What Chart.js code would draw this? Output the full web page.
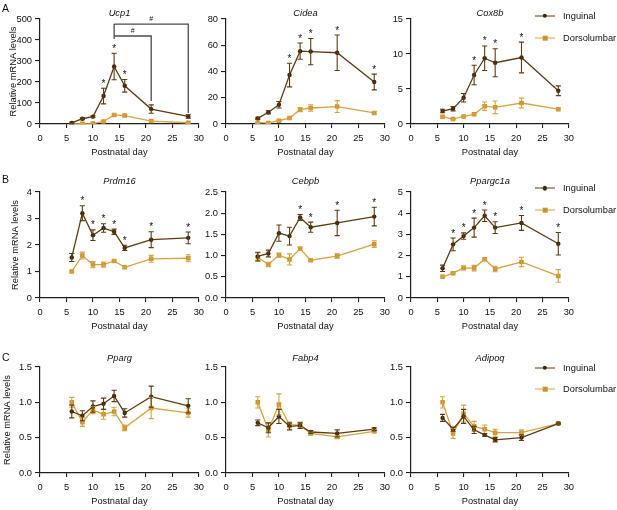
<!DOCTYPE html>
<html><head><meta charset="utf-8">
<script src="https://cdn.jsdelivr.net/npm/chart.js@4.4.1/dist/chart.umd.min.js"></script>
<style>
html,body{margin:0;padding:0;background:#fff;}
body{width:617px;height:510px;position:relative;overflow:hidden;font-family:"Liberation Sans",Arial,sans-serif;color:#111;}
canvas{position:absolute;}
.t{position:absolute;font-size:9.3px;font-style:italic;transform:translate(-50%,-50%);white-space:nowrap;z-index:2}
.p{position:absolute;font-size:10.5px;transform:translateY(-50%);z-index:2}
.lg{position:absolute;font-size:9.3px;height:10px;line-height:10px;padding-left:28px;transform:translateY(-50%);white-space:nowrap;z-index:2}
.lg .ln{position:absolute;left:0;top:5px;width:20px;height:0;border-top:1.3px solid;transform:translateY(-50%)}
.lg .mk{position:absolute;left:10px;top:5px;transform:translate(-50%,-50%)}
</style></head>
<body>
<script>
// ---------- DATA ----------
const days = [6, 8, 10, 12, 14, 16, 21, 28];
const xTicks = [0, 5, 10, 15, 20, 25, 30];
const seriesNames = ['Inguinal', 'Dorsolumbar'];
const panelLetters = ['A', 'B', 'C'];
const yAxisTitle = 'Relative mRNA levels';
const xAxisTitle = 'Postnatal day';

// Ucp1
const ucp1Ing = [5, 25, 35, 133, 274, 182, 71, 36];
const ucp1IngErr = [3, 4, 4, 37, 63, 30, 20, 8];
const ucp1Dor = [1, 1, 2, 12, 43, 40, 14, 6];
const ucp1DorErr = [1, 1, 1, 3, 5, 6, 2, 2];
const ucp1Ticks = [0, 100, 200, 300, 400, 500];
const ucp1Stars = [12, 14, 16];
const ucp1BracketFrom = [14, 14];
const ucp1BracketTo = [28, 21];
const ucp1BracketLevel = [476, 419];
const ucp1BracketEnd = [52, 110];
const ucp1BracketStemLow = 405;
const ucp1BracketLabel = ['#', '#'];

// Cidea
const cideaIng = [4.3, 8.9, 14.7, 37.3, 55.5, 55.2, 54.3, 32];
const cideaIngErr = [0.8, 1.2, 2.5, 9, 6.2, 10, 13.5, 6];
const cideaDor = [1, 0.8, 2.5, 4.5, 10.9, 12.2, 13.3, 8.4];
const cideaDorErr = [0.3, 0.3, 0.5, 0.8, 1.6, 2.5, 4.5, 1];
const cideaTicks = [0, 20, 40, 60, 80];
const cideaStars = [12, 14, 16, 21, 28];

// Cox8b
const cox8bIng = [1.85, 2.18, 3.75, 7.0, 9.4, 8.75, 9.5, 4.75];
const cox8bIngErr = [0.25, 0.3, 0.6, 1.4, 1.75, 2.0, 2.2, 0.7];
const cox8bDor = [1.04, 0.7, 1.08, 1.38, 2.55, 2.38, 3.0, 2.12];
const cox8bDorErr = [0.1, 0.08, 0.1, 0.12, 0.6, 0.9, 0.7, 0.15];
const cox8bTicks = [0, 5, 10, 15];
const cox8bStars = [12, 14, 16, 21];

// Prdm16
const prdm16Ing = [1.53, 3.2, 2.37, 2.64, 2.5, 1.89, 2.2, 2.27];
const prdm16IngErr = [0.15, 0.28, 0.2, 0.16, 0.1, 0.1, 0.3, 0.22];
const prdm16Dor = [1.0, 1.6, 1.26, 1.26, 1.4, 1.16, 1.48, 1.5];
const prdm16DorErr = [0.03, 0.13, 0.12, 0.1, 0.04, 0.03, 0.13, 0.13];
const prdm16Ticks = [0, 1, 2, 3, 4];
const prdm16Stars = [8, 10, 12, 14, 16, 21, 28];

// Cebpb
const cebpbIng = [0.98, 1.05, 1.53, 1.46, 1.9, 1.67, 1.77, 1.92];
const cebpbIngErr = [0.1, 0.08, 0.19, 0.21, 0.07, 0.12, 0.3, 0.22];
const cebpbDor = [0.96, 0.79, 1.01, 0.91, 1.16, 0.89, 0.99, 1.27];
const cebpbDorErr = [0.1, 0.05, 0.05, 0.13, 0.04, 0.02, 0.05, 0.08];
const cebpbTicks = [0, 0.5, 1.0, 1.5, 2.0, 2.5];
const cebpbStars = [14, 16, 21, 28];

// Ppargc1a
const ppargc1aIng = [1.4, 2.53, 2.92, 3.32, 3.88, 3.32, 3.54, 2.56];
const ppargc1aIngErr = [0.15, 0.3, 0.15, 0.45, 0.27, 0.28, 0.35, 0.53];
const ppargc1aDor = [1.0, 1.17, 1.42, 1.41, 1.83, 1.37, 1.7, 1.04];
const ppargc1aDorErr = [0.03, 0.04, 0.1, 0.13, 0.03, 0.13, 0.22, 0.3];
const ppargc1aTicks = [0, 1, 2, 3, 4, 5];
const ppargc1aStars = [8, 10, 12, 14, 16, 21, 28];

// Pparg
const ppargIng = [0.87, 0.81, 0.94, 0.98, 1.09, 0.85, 1.08, 0.95];
const ppargIngErr = [0.09, 0.07, 0.08, 0.08, 0.08, 0.06, 0.15, 0.1];
const ppargDor = [1.0, 0.72, 0.89, 0.83, 0.87, 0.64, 0.92, 0.85];
const ppargDorErr = [0.07, 0.06, 0.05, 0.07, 0.06, 0.04, 0.15, 0.06];

// Fabp4
const fabp4Ing = [0.71, 0.64, 0.8, 0.66, 0.67, 0.58, 0.56, 0.62];
const fabp4IngErr = [0.04, 0.07, 0.1, 0.05, 0.04, 0.02, 0.05, 0.02];
const fabp4Dor = [1.0, 0.61, 0.97, 0.68, 0.68, 0.56, 0.51, 0.59];
const fabp4DorErr = [0.08, 0.1, 0.15, 0.04, 0.04, 0.02, 0.02, 0.02];

// Adipoq
const adipoqIng = [0.78, 0.62, 0.8, 0.61, 0.54, 0.47, 0.5, 0.7];
const adipoqIngErr = [0.05, 0.03, 0.1, 0.05, 0.02, 0.03, 0.04, 0.01];
const adipoqDor = [1.0, 0.56, 0.84, 0.66, 0.62, 0.57, 0.57, 0.7];
const adipoqDorErr = [0.08, 0.07, 0.12, 0.07, 0.06, 0.05, 0.04, 0.01];

const rowCTicks = [0, 0.5, 1.0, 1.5];

// ---------- STYLE / LAYOUT ----------
const ING_COLOR = '#5e3b12';
const ING_POINT = '#3f2808';
const DOR_COLOR = '#d9a23f';
const DOR_POINT = '#cc922c';
const AXIS = '#1e1e1e';
const FONT_FAMILY = '"Liberation Sans", Arial, sans-serif';
const FS = 9.3;

const cols = [{left: 40, right: 199, wy: 40}, {left: 226, right: 385, wy: 30}, {left: 411, right: 569, wy: 30}];
const rows = [{top: 19, bottom: 124, titleY: 12.5, letterY: 8, yTitlePad: 8, legendY: [16, 38.3]},
              {top: 192, bottom: 298, titleY: 181, letterY: 178.5, yTitlePad: 9.4, legendY: [188.3, 210]},
              {top: 367, bottom: 473, titleY: 357.5, letterY: 356.5, yTitlePad: 1.4, legendY: [367.7, 389.3]}];
const PAD_T = 12, PAD_R = 10, H_X = 34;

const panels = [
  {name: 'Ucp1', row: 0, col: 0, ing: ucp1Ing, ingErr: ucp1IngErr, dor: ucp1Dor, dorErr: ucp1DorErr, ticks: ucp1Ticks, dec: 0, stars: ucp1Stars, brackets: true},
  {name: 'Cidea', row: 0, col: 1, ing: cideaIng, ingErr: cideaIngErr, dor: cideaDor, dorErr: cideaDorErr, ticks: cideaTicks, dec: 0, stars: cideaStars},
  {name: 'Cox8b', row: 0, col: 2, ing: cox8bIng, ingErr: cox8bIngErr, dor: cox8bDor, dorErr: cox8bDorErr, ticks: cox8bTicks, dec: 0, stars: cox8bStars},
  {name: 'Prdm16', row: 1, col: 0, ing: prdm16Ing, ingErr: prdm16IngErr, dor: prdm16Dor, dorErr: prdm16DorErr, ticks: prdm16Ticks, dec: 0, stars: prdm16Stars},
  {name: 'Cebpb', row: 1, col: 1, ing: cebpbIng, ingErr: cebpbIngErr, dor: cebpbDor, dorErr: cebpbDorErr, ticks: cebpbTicks, dec: 1, stars: cebpbStars},
  {name: 'Ppargc1a', row: 1, col: 2, ing: ppargc1aIng, ingErr: ppargc1aIngErr, dor: ppargc1aDor, dorErr: ppargc1aDorErr, ticks: ppargc1aTicks, dec: 0, stars: ppargc1aStars},
  {name: 'Pparg', row: 2, col: 0, ing: ppargIng, ingErr: ppargIngErr, dor: ppargDor, dorErr: ppargDorErr, ticks: rowCTicks, dec: 1, stars: []},
  {name: 'Fabp4', row: 2, col: 1, ing: fabp4Ing, ingErr: fabp4IngErr, dor: fabp4Dor, dorErr: fabp4DorErr, ticks: rowCTicks, dec: 1, stars: []},
  {name: 'Adipoq', row: 2, col: 2, ing: adipoqIng, ingErr: adipoqIngErr, dor: adipoqDor, dorErr: adipoqDorErr, ticks: rowCTicks, dec: 1, stars: []}
];

function addDiv(cls, html, style) {
  const d = document.createElement('div');
  d.className = cls; d.innerHTML = html; d.style.cssText = style;
  document.body.appendChild(d);
  return d;
}

// panel letters
rows.forEach((r, i) => addDiv('p', panelLetters[i], `left:2px;top:${r.letterY}px`));

// legends (right column)
rows.forEach(r => {
  seriesNames.forEach((nm, k) => {
    const c = k === 0 ? ING_COLOR : DOR_COLOR;
    const pc = k === 0 ? ING_POINT : DOR_POINT;
    const mk = k === 0
      ? `<span class="mk" style="width:4.4px;height:4.4px;border-radius:50%;background:${pc}"></span>`
      : `<span class="mk" style="width:4.6px;height:4.6px;background:${pc}"></span>`;
    addDiv('lg', `<span class="ln" style="border-color:${c}"></span>${mk}${nm}`, `left:535px;top:${r.legendY[k]}px`);
  });
});

function overlayPlugin(p) {
  return {
    id: 'overlay_' + p.name,
    afterDatasetsDraw(chart) {
      const {ctx} = chart;
      const xs = chart.scales.x, ys = chart.scales.y;
      ctx.save();
      // error bars
      const sets = [[p.dor, p.dorErr, DOR_COLOR], [p.ing, p.ingErr, ING_COLOR]];
      sets.forEach(([vals, errs, col]) => {
        ctx.strokeStyle = col; ctx.lineWidth = 1.1;
        vals.forEach((v, i) => {
          const e = errs[i]; if (!e) return;
          const px = xs.getPixelForValue(days[i]);
          const y1 = ys.getPixelForValue(v + e), y2 = ys.getPixelForValue(Math.max(0, v - e));
          ctx.beginPath();
          ctx.moveTo(px, y1); ctx.lineTo(px, y2);
          ctx.moveTo(px - 2.6, y1); ctx.lineTo(px + 2.6, y1);
          ctx.moveTo(px - 2.6, y2); ctx.lineTo(px + 2.6, y2);
          ctx.stroke();
        });
      });
      // significance stars
      ctx.fillStyle = '#111';
      ctx.font = `10px ${FONT_FAMILY}`;
      ctx.textAlign = 'center'; ctx.textBaseline = 'alphabetic';
      p.stars.forEach(d => {
        const i = days.indexOf(d);
        const top = p.ing[i] + p.ingErr[i];
        ctx.fillText('*', xs.getPixelForValue(d), ys.getPixelForValue(top) - 1.5);
      });
      // brackets
      if (p.brackets) {
        ctx.strokeStyle = '#4a4a4a'; ctx.lineWidth = 1.3;
        const x0 = xs.getPixelForValue(ucp1BracketFrom[0]);
        ctx.beginPath();
        ctx.moveTo(x0, ys.getPixelForValue(Math.max(...ucp1BracketLevel)));
        ctx.lineTo(x0, ys.getPixelForValue(ucp1BracketStemLow));
        ctx.stroke();
        ucp1BracketFrom.forEach((f, k) => {
          const xa = xs.getPixelForValue(f), xb = xs.getPixelForValue(ucp1BracketTo[k]);
          const yl = ys.getPixelForValue(ucp1BracketLevel[k]);
          ctx.beginPath();
          ctx.moveTo(xa, yl); ctx.lineTo(xb, yl);
          ctx.lineTo(xb, ys.getPixelForValue(ucp1BracketEnd[k]));
          ctx.stroke();
          ctx.font = `7px ${FONT_FAMILY}`;
          ctx.fillText(ucp1BracketLabel[k], (xa + xb) / 2, yl - 3);
        });
      }
      ctx.restore();
    }
  };
}

const font = {family: FONT_FAMILY, size: FS};

panels.forEach(p => {
  const c = cols[p.col], r = rows[p.row];
  const cv = document.createElement('canvas');
  const w = c.wy + (c.right - c.left) + PAD_R;
  const h = PAD_T + (r.bottom - r.top) + H_X;
  cv.width = w; cv.height = h;
  cv.style.left = (c.left - c.wy) + 'px';
  cv.style.top = (r.top - PAD_T) + 'px';
  cv.style.width = w + 'px'; cv.style.height = h + 'px';
  document.body.appendChild(cv);

  addDiv('t', p.name, `left:${(c.left + c.right) / 2}px;top:${r.titleY}px`);

  new Chart(cv, {
    type: 'line',
    data: {
      datasets: [
        {label: seriesNames[0], data: days.map((d, i) => ({x: d, y: p.ing[i]})),
         borderColor: ING_COLOR, backgroundColor: ING_POINT, borderWidth: 1.3,
         pointStyle: 'circle', pointRadius: 2.2, pointBorderWidth: 0, pointBackgroundColor: ING_POINT, tension: 0},
        {label: seriesNames[1], data: days.map((d, i) => ({x: d, y: p.dor[i]})),
         borderColor: DOR_COLOR, backgroundColor: DOR_POINT, borderWidth: 1.3,
         pointStyle: 'rect', pointRadius: 3.2, pointBorderWidth: 0, pointBackgroundColor: DOR_POINT, tension: 0}
      ]
    },
    options: {
      responsive: false, animation: false, devicePixelRatio: 1,
      layout: {padding: {top: PAD_T, right: PAD_R, left: 0, bottom: 0}},
      plugins: {legend: {display: false}, tooltip: {enabled: false}, title: {display: false}},
      scales: {
        x: {
          type: 'linear', min: 0, max: 30,
          afterBuildTicks: s => { s.ticks = xTicks.map(v => ({value: v})); },
          ticks: {font, color: '#111', padding: 5, maxRotation: 0, autoSkip: false},
          grid: {drawOnChartArea: false, drawTicks: true, tickLength: 4, color: AXIS, lineWidth: 1.1},
          border: {display: true, color: AXIS, width: 1.2},
          title: {display: true, text: xAxisTitle, font, color: '#111', padding: {top: 0, bottom: 0}},
          afterFit: s => { s.height = H_X; }
        },
        y: {
          type: 'linear', min: 0, max: p.ticks[p.ticks.length - 1],
          afterBuildTicks: s => { s.ticks = p.ticks.map(v => ({value: v})); },
          ticks: {font, color: '#111', padding: 3, autoSkip: false,
                  callback: v => p.dec ? Number(v).toFixed(p.dec) : String(v)},
          grid: {drawOnChartArea: false, drawTicks: true, tickLength: 5, color: AXIS, lineWidth: 1.1},
          border: {display: true, color: AXIS, width: 1.2},
          title: {display: p.col === 0, text: yAxisTitle, font, color: '#111', padding: {top: r.yTitlePad, bottom: 0}},
          afterFit: s => { s.width = c.wy; }
        }
      }
    },
    plugins: [overlayPlugin(p)]
  });
});
</script>
</body></html>
